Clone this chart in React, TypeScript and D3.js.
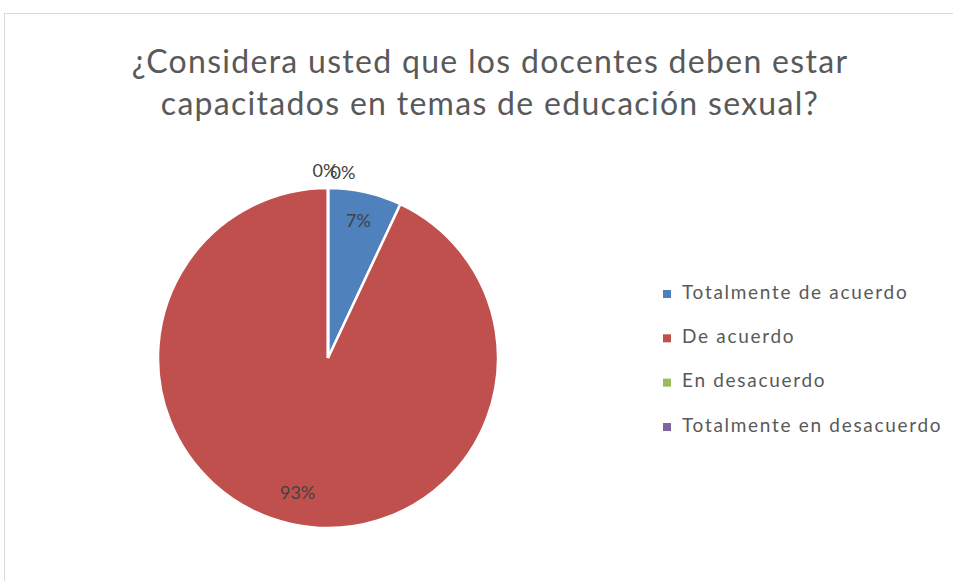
import React from "react";
import * as d3 from "d3";

const categories = ["Totalmente de acuerdo", "De acuerdo", "En desacuerdo", "Totalmente en desacuerdo"];
const values = [7, 93, 0, 0];
const colors = ["#4f81bd", "#c0504d", "#9bbb59", "#8064a2"];
const titleLines = ["¿Considera usted que los docentes deben estar", "capacitados en temas de educación sexual?"];

const W = 953, H = 581;
const FONT = "Lato, 'Open Sans', sans-serif";

export default function App() {
  const cx = 328, cy = 358, r = 170;
  const pie = d3.pie<number>().sort(null).value((d) => d)(values);
  const arc = d3.arc<d3.PieArcDatum<number>>().innerRadius(0).outerRadius(r);
  const labelArc = d3.arc<d3.PieArcDatum<number>>().innerRadius(r * 0.82).outerRadius(r * 0.82);
  const outerArc = d3.arc<d3.PieArcDatum<number>>().innerRadius(r + 18).outerRadius(r + 18);
  const legendY = d3.scalePoint<string>().domain(categories).range([294, 427]);
  const total = d3.sum(values);
  let zeroIdx = 0;
  return (
    <div style={{ position: "fixed", left: 0, top: 0 }}>
      <svg width={W} height={H} style={{ display: "block", background: "#fff" }}>
        <rect x={4.5} y={13.5} width={W + 10} height={H + 10} fill="#fff" stroke="#d9d9d9" strokeWidth={1} />
        {titleLines.map((t, i) => (
          <text key={i} x={490} y={73 + i * 42} textAnchor="middle" fontFamily={FONT} fontSize={32} fill="#595959" letterSpacing={1.3}>
            {t}
          </text>
        ))}
        <g transform={`translate(${cx},${cy})`}>
          {pie.map((p, i) => (
            <path key={i} d={arc(p) || ""} fill={colors[i]} stroke="#fff" strokeWidth={2.5} strokeLinejoin="miter" />
          ))}
          {pie.map((p, i) => {
            const pct = Math.round((p.value / total) * 100) + "%";
            if (p.value === 0) {
              const [x, y] = outerArc.centroid(p);
              const off = zeroIdx++ * 18;
              return (
                <text key={"l" + i} x={x - 3 + off} y={y + 2 + off / 9} textAnchor="middle" dominantBaseline="middle" fontFamily={FONT} fontSize={18} fill="#404040">
                  {pct}
                </text>
              );
            }
            const [x, y] = labelArc.centroid(p);
            return (
              <text key={"l" + i} x={x} y={y} textAnchor="middle" dominantBaseline="middle" fontFamily={FONT} fontSize={18} fill="#404040">
                {pct}
              </text>
            );
          })}
        </g>
        {categories.map((c, i) => (
          <g key={c} transform={`translate(663,${legendY(c)})`}>
            <rect x={0} y={-4} width={8} height={8} fill={colors[i]} />
            <text x={19} y={0} dominantBaseline="middle" fontFamily={FONT} fontSize={19} fill="#595959" letterSpacing={1.7}>
              {c}
            </text>
          </g>
        ))}
      </svg>
    </div>
  );
}
